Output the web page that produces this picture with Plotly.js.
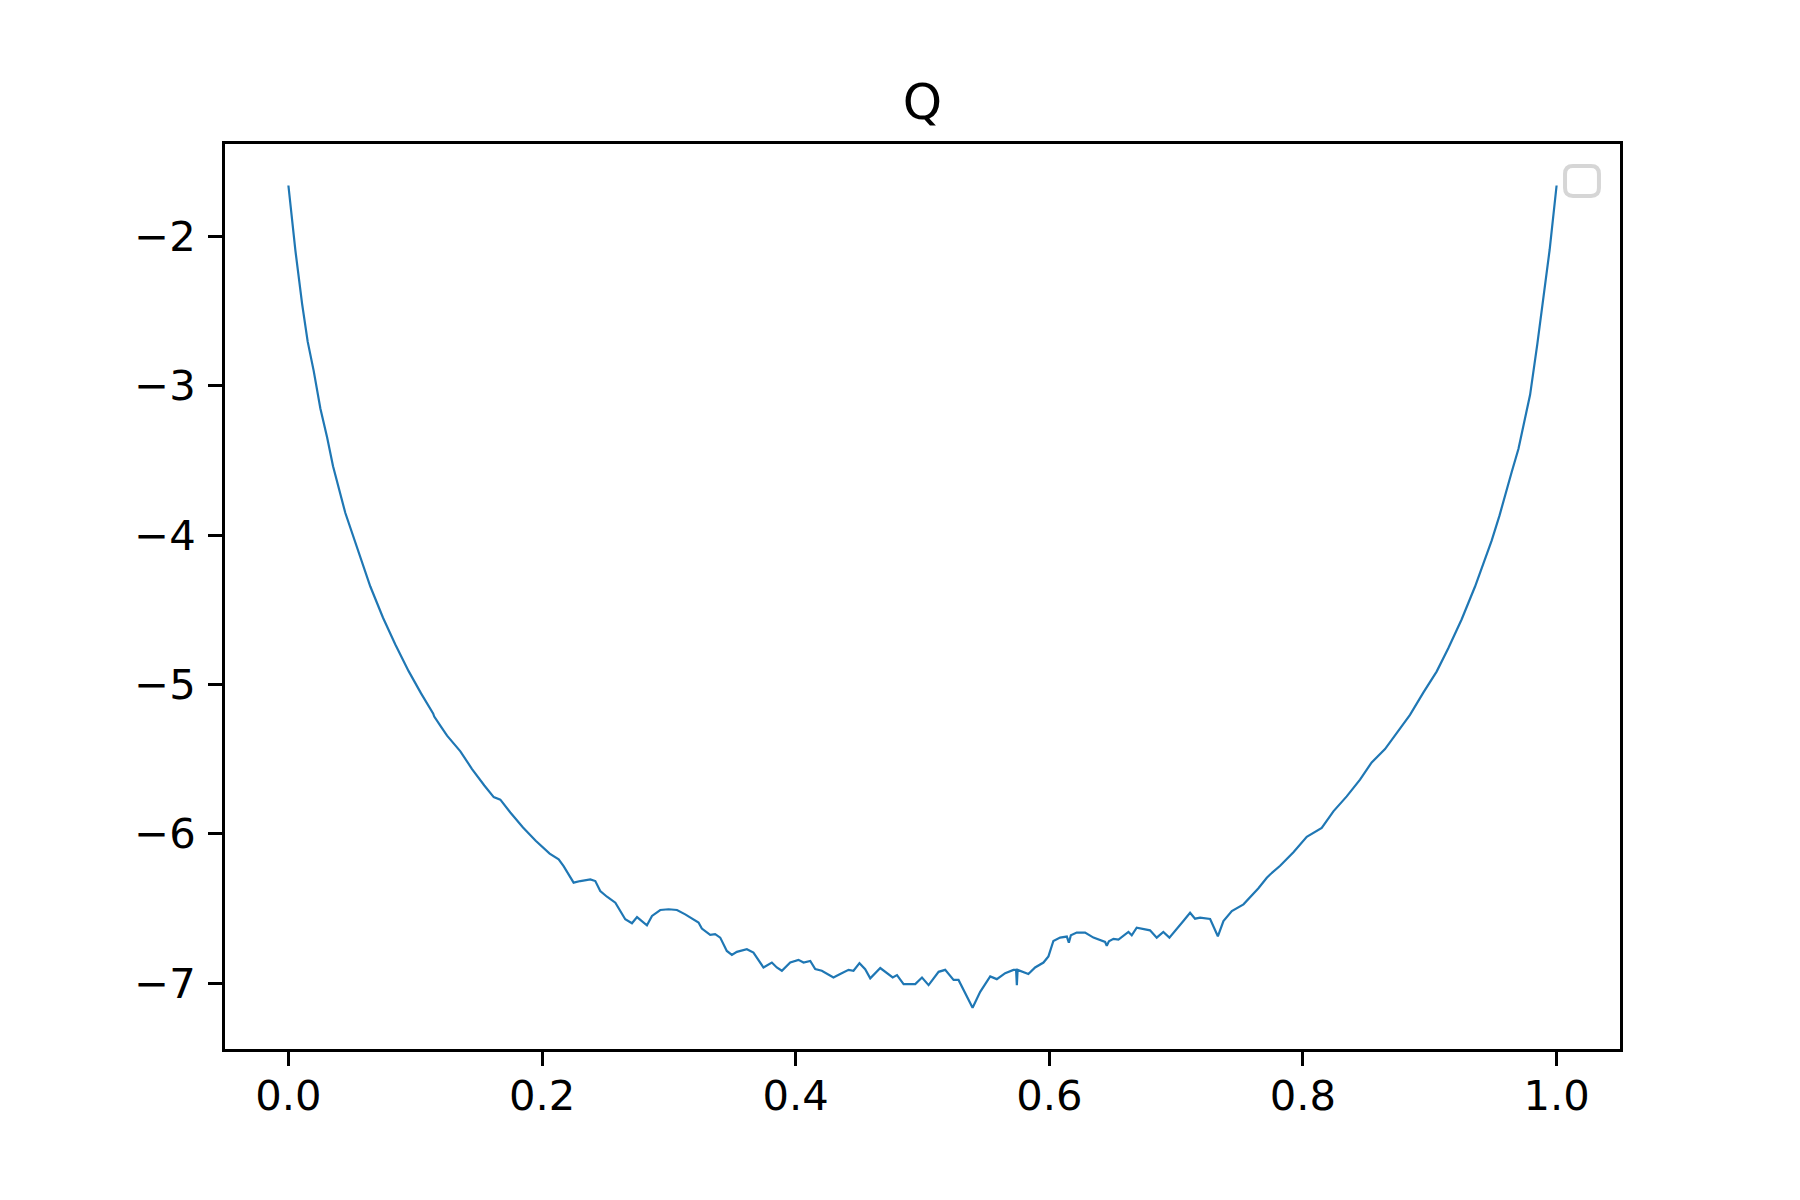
<!DOCTYPE html>
<html>
<head>
<meta charset="utf-8">
<script src="https://cdn.plot.ly/plotly-3.0.1.min.js"></script>
<style>html,body{margin:0;padding:0;background:#fff;}</style>
</head>
<body>
<div id="chart" style="width:1800px;height:1200px;"></div>
<script>
// Data
const xValues = [
  0.0000, 0.0055, 0.0108, 0.0152, 0.0199, 0.0252, 0.0305, 0.0352, 0.0449, 0.0554,
  0.0646, 0.0746, 0.0843, 0.0948, 0.1046, 0.1141, 0.1150, 0.1199, 0.1251, 0.1356,
  0.1448, 0.1545, 0.1619, 0.1671, 0.1750, 0.1850, 0.1950, 0.2060, 0.2131, 0.2170,
  0.2249, 0.2302, 0.2381, 0.2420, 0.2459, 0.2512, 0.2578, 0.2656, 0.2709, 0.2749,
  0.2788, 0.2827, 0.2867, 0.2932, 0.2998, 0.3064, 0.3129, 0.3182, 0.3234, 0.3260,
  0.3326, 0.3365, 0.3405, 0.3457, 0.3497, 0.3536, 0.3615, 0.3667, 0.3746, 0.3812,
  0.3851, 0.3891, 0.3957, 0.4022, 0.4062, 0.4115, 0.4154, 0.4206, 0.4298, 0.4351,
  0.4417, 0.4456, 0.4503, 0.4548, 0.4588, 0.4667, 0.4765, 0.4799, 0.4851, 0.4943,
  0.4996, 0.5048, 0.5127, 0.5179, 0.5245, 0.5284, 0.5350, 0.5395, 0.5455, 0.5534,
  0.5586, 0.5652, 0.5717, 0.5738, 0.5744, 0.5750, 0.5835, 0.5888, 0.5954, 0.5993,
  0.6032, 0.6085, 0.6138, 0.6154, 0.6170, 0.6216, 0.6282, 0.6348, 0.6440, 0.6453,
  0.6470, 0.6506, 0.6545, 0.6624, 0.6650, 0.6689, 0.6794, 0.6847, 0.6899, 0.6947,
  0.7057, 0.7110, 0.7149, 0.7189, 0.7268, 0.7294, 0.7329, 0.7373, 0.7439, 0.7531,
  0.7583, 0.7649, 0.7715, 0.7741, 0.7820, 0.7925, 0.8030, 0.8148, 0.8240, 0.8345,
  0.8450, 0.8542, 0.8647, 0.8739, 0.8844, 0.8949, 0.9054, 0.9146, 0.9251, 0.9357,
  0.9444, 0.9488, 0.9549, 0.9594, 0.9646, 0.9699, 0.9743, 0.9791, 0.9848, 0.9890,
  0.9945, 1.0000
];
const qValues = [
  -1.658, -2.093, -2.451, -2.704, -2.898, -3.152, -3.345, -3.539, -3.852, -4.121,
  -4.344, -4.553, -4.732, -4.911, -5.060, -5.194, -5.215, -5.278, -5.343, -5.448,
  -5.567, -5.677, -5.755, -5.772, -5.858, -5.958, -6.047, -6.133, -6.172, -6.217,
  -6.328, -6.317, -6.306, -6.317, -6.384, -6.422, -6.462, -6.573, -6.600, -6.558,
  -6.585, -6.613, -6.551, -6.511, -6.506, -6.511, -6.540, -6.569, -6.595, -6.635,
  -6.678, -6.673, -6.696, -6.785, -6.812, -6.791, -6.774, -6.796, -6.896, -6.863,
  -6.896, -6.918, -6.863, -6.845, -6.863, -6.852, -6.907, -6.918, -6.963, -6.940,
  -6.912, -6.918, -6.867, -6.907, -6.969, -6.900, -6.963, -6.947, -7.007, -7.007,
  -6.963, -7.014, -6.925, -6.912, -6.979, -6.979, -7.086, -7.166, -7.059, -6.956,
  -6.974, -6.934, -6.912, -6.912, -7.014, -6.912, -6.940, -6.896, -6.863, -6.822,
  -6.718, -6.696, -6.689, -6.730, -6.680, -6.662, -6.662, -6.696, -6.725, -6.750,
  -6.720, -6.704, -6.709, -6.658, -6.680, -6.629, -6.647, -6.696, -6.658, -6.696,
  -6.585, -6.529, -6.569, -6.562, -6.571, -6.618, -6.687, -6.585, -6.518, -6.473,
  -6.428, -6.365, -6.295, -6.273, -6.215, -6.124, -6.021, -5.961, -5.850, -5.750,
  -5.638, -5.522, -5.433, -5.326, -5.204, -5.055, -4.914, -4.758, -4.565, -4.344,
  -4.140, -4.037, -3.871, -3.730, -3.577, -3.423, -3.250, -3.060, -2.720, -2.460,
  -2.090, -1.658
];
const xTickVals = [0.0, 0.2, 0.4, 0.6, 0.8, 1.0];
const xTickText = ['0.0', '0.2', '0.4', '0.6', '0.8', '1.0'];
const yTickVals = [-7, -6, -5, -4, -3, -2];
const yTickText = ['\u22127', '\u22126', '\u22125', '\u22124', '\u22123', '\u22122'];
const chartTitle = 'Q';

const font = 'DejaVu Sans, sans-serif';

const trace = {
  x: xValues,
  y: qValues,
  type: 'scatter',
  mode: 'lines',
  line: {color: '#1f77b4', width: 2.2},
  showlegend: false,
  hoverinfo: 'x+y'
};

const axisCommon = {
  showline: true,
  linecolor: '#000',
  linewidth: 3,
  mirror: true,
  showgrid: false,
  zeroline: false,
  ticks: 'outside',
  ticklen: 14,
  tickwidth: 3,
  tickcolor: '#000',
  tickfont: {family: font, size: 41.7, color: '#000'}
};

const layout = {
  width: 1800,
  height: 1200,
  margin: {l: 225, r: 180, t: 144, b: 151, pad: 0},
  paper_bgcolor: '#fff',
  plot_bgcolor: '#fff',
  title: {
    text: chartTitle,
    font: {family: font, size: 50, color: '#000'},
    x: 0.5,
    xref: 'paper',
    xanchor: 'center',
    y: 0.9155,
    yref: 'container',
    yanchor: 'middle'
  },
  xaxis: Object.assign({}, axisCommon, {
    range: [-0.05, 1.05],
    tickmode: 'array',
    tickvals: xTickVals,
    ticktext: xTickText,
    ticklabelstandoff: -6
  }),
  yaxis: Object.assign({}, axisCommon, {
    range: [-7.442, -1.38],
    tickmode: 'array',
    tickvals: yTickVals,
    ticktext: yTickText,
    ticklabelstandoff: 4
  }),
  shapes: [{
    type: 'path',
    xref: 'paper',
    yref: 'paper',
    path: 'M 0.9663 0.9757 L 0.9792 0.9757 Q 0.9849 0.9757 0.9849 0.9669 L 0.9849 0.9514 Q 0.9849 0.9426 0.9792 0.9426 L 0.9663 0.9426 Q 0.9606 0.9426 0.9606 0.9514 L 0.9606 0.9669 Q 0.9606 0.9757 0.9663 0.9757 Z',
    line: {color: '#d6d6d6', width: 4},
    fillcolor: 'rgba(255,255,255,0.8)'
  }]
};

Plotly.newPlot('chart', [trace], layout, {displayModeBar: false, staticPlot: true});
</script>
</body>
</html>
